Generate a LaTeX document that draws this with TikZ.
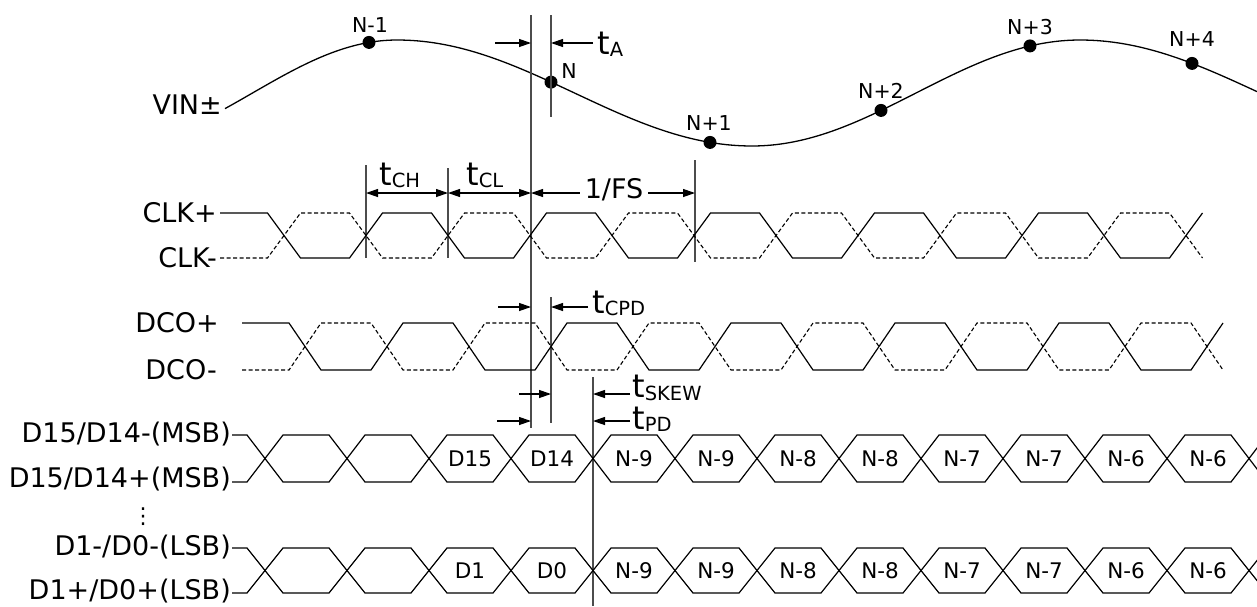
\documentclass[tikz,border=0pt]{standalone}
\usepackage{fontspec}
\setmainfont{DejaVu Sans}
\usetikzlibrary{arrows.meta}
\newcommand\fsz[1]{\fontsize{#1}{#1}\selectfont}
\newcommand\tsub[1]{{\fsz{32}t}{\fsz{19.5}\raisebox{-2.5pt}{#1}}}
% #1 style, #2 start x, #3 first crossing, #4 last pair index, #5 start level, #6 other level, #7 half width
\newcommand\wavepair[7]{%
  \draw[#1] (#2,#5) \foreach \k in {0,2,...,#4} {
    -- ({#3+82*\k-#7},#5) -- ({#3+82*\k+#7},#6)
    -- ({#3+82*(\k+1)-#7},#6) -- ({#3+82*(\k+1)+#7},#5) };}
\begin{document}
\begin{tikzpicture}[x=1pt,y=-1pt,
  wave/.style={line width=1.2pt,line join=miter},
  dwave/.style={line width=1.1pt,dash pattern=on 4pt off 2.5pt},
  curve/.style={line width=1.3pt},
  vline/.style={line width=1.4pt,black!70},
  arr/.style={line width=1.2pt,-{Triangle[length=12pt,width=8pt]}},
  darr/.style={line width=1.2pt,{Triangle[length=12pt,width=8pt]}-{Triangle[length=12pt,width=8pt]}},
  lab/.style={font=\fsz{27},inner sep=0pt},
  tl/.style={inner sep=0pt,anchor=base west},
  dot/.style={circle,fill=black,inner sep=0pt,minimum size=13pt},
  nlab/.style={font=\fsz{20.5},inner sep=0pt},
  blab/.style={font=\fsz{21.5},inner sep=0pt}]
\useasboundingbox (0,0) rectangle (1257,606);
\clip (0,0) rectangle (1257,606);
\fill[white] (0,0) rectangle (1257,606);

% ---------- VIN curve ----------
\node[lab,anchor=east] (vin) at (222,105) {VIN±};
\draw[curve] plot[domain=225:397,samples=40] (\x,{93-53*cos((\x-397)/289*180)})
  -- plot[domain=397:752,samples=70] (\x,{93-53*cos((\x-397)/355*180)})
  -- plot[domain=752:1080,samples=70] (\x,{93+53*cos((\x-752)/328*180)})
  -- plot[domain=1080:1257,samples=40] (\x,{93-53*cos((\x-1080)/360*180)});
\node[dot] (pNm1) at (369,42.4) {};
\node[dot] (pN)   at (551,82.1) {};
\node[dot] (pNp1) at (710,142.4) {};
\node[dot] (pNp2) at (881,110.4) {};
\node[dot] (pNp3) at (1030,45.9) {};
\node[dot] (pNp4) at (1192,63.4) {};
\node[nlab] (lNm1) at (370,25) {N-1};
\node[nlab] (lN)   at (569,71) {N};
\node[nlab] (lNp1) at (709,123) {N+1};
\node[nlab] (lNp2) at (881,91) {N+2};
\node[nlab] (lNp3) at (1030,27) {N+3};
\node[nlab] (lNp4) at (1192,39) {N+4};

% ---------- vertical reference lines ----------
\coordinate (aT) at (531,15);   \coordinate (aB) at (531,428);
\coordinate (nT) at (551,15);   \coordinate (nB) at (551,117);
\coordinate (cT) at (551,297);  \coordinate (cB) at (551,423);
\coordinate (hT) at (366,165);  \coordinate (hB) at (366,258);
\coordinate (lT) at (448,168);  \coordinate (lB) at (448,258);
\coordinate (fT) at (695,160);  \coordinate (fB) at (695,262);
\coordinate (pT) at (593,377);  \coordinate (pB) at (593,606);
\foreach \a/\b in {aT/aB,nT/nB,cT/cB,hT/hB,lT/lB,fT/fB,pT/pB}
  \draw[vline] (\a) -- (\b);

% ---------- tA ----------
\coordinate (taL) at (495,43); \coordinate (taR) at (593,43);
\draw[arr] (taL) -- (taL -| aT);
\draw[arr] (taR) -- (taR -| nT);
\node[tl] (ta) at (597,54) {\tsub{A}};

% ---------- tCH, tCL, 1/FS ----------
\coordinate (chA) at (366,193);
\draw[darr] (chA) -- (chA -| lT);
\draw[darr] (chA -| lT) -- (chA -| aT);
\node[tl] (tch) at (379,185) {\tsub{CH}};
\node[tl] (tcl) at (466,185) {\tsub{CL}};
\node[lab,inner xsep=5pt] (fs) at (614,190) {1/FS};
\draw[arr] (fs.west |- chA) -- (chA -| aT);
\draw[arr] (fs.east |- chA) -- (chA -| fT);

% ---------- CLK ----------
\node[lab,anchor=east] (clkp) at (217,213) {CLK+};
\node[lab,anchor=east] (clkm) at (217,258) {CLK-};
\wavepair{wave}{220}{284}{10}{213}{258}{16.5}
\wavepair{dwave}{220}{284}{10}{258}{213}{16.5}

% ---------- DCO ----------
\node[lab,anchor=east] (dcop) at (219,323) {DCO+};
\node[lab,anchor=east] (dcom) at (217,370) {DCO-};
\wavepair{wave}{242}{305}{10}{323}{370}{16}
\wavepair{dwave}{242}{305}{10}{370}{323}{16}

% ---------- tCPD, tSKEW, tPD ----------
\coordinate (cpL) at (498,307); \coordinate (cpR) at (588,307);
\draw[arr] (cpL) -- (cpL -| aT);
\draw[arr] (cpR) -- (cpR -| cT);
\node[tl] (tcpd) at (592,313) {\tsub{CPD}};
\coordinate (skL) at (519,394); \coordinate (skR) at (630,394);
\draw[arr] (skL) -- (skL -| cT);
\draw[arr] (skR) -- (skR -| pT);
\node[tl] (tsk) at (632,397.5) {\tsub{SKEW}};
\coordinate (pdL) at (497,421); \coordinate (pdR) at (630,421);
\draw[arr] (pdL) -- (pdL -| aT);
\draw[arr] (pdR) -- (pdR -| pT);
\node[tl] (tpd) at (632,429) {\tsub{PD}};

% ---------- data buses ----------
\node[lab,anchor=east] (d1m) at (231,434) {D15/D14-(MSB)};
\node[lab,anchor=east] (d1p) at (231,479) {D15/D14+(MSB)};
\node[inner sep=0pt,font=\fsz{22}] (vd) at (143,517) {⋮};
\node[lab,anchor=east] (d0m) at (231,547) {D1-/D0-(LSB)};
\node[lab,anchor=east] (d0p) at (231,591) {D1+/D0+(LSB)};
\wavepair{wave}{232}{265}{12}{435}{482}{18}
\wavepair{wave}{232}{265}{12}{482}{435}{18}
\wavepair{wave}{232}{265}{12}{548}{593}{18}
\wavepair{wave}{232}{265}{12}{593}{548}{18}
\foreach \t [count=\i from 2] in {D15,D14,N-9,N-9,N-8,N-8,N-7,N-7,N-6,N-6}
  \node[blab] (ra\i) at ({306+82*\i},459) {\t};
\foreach \t [count=\i from 2] in {D1,D0,N-9,N-9,N-8,N-8,N-7,N-7,N-6,N-6}
  \node[blab] (rb\i) at ({306+82*\i},571) {\t};
\end{tikzpicture}
\end{document}
